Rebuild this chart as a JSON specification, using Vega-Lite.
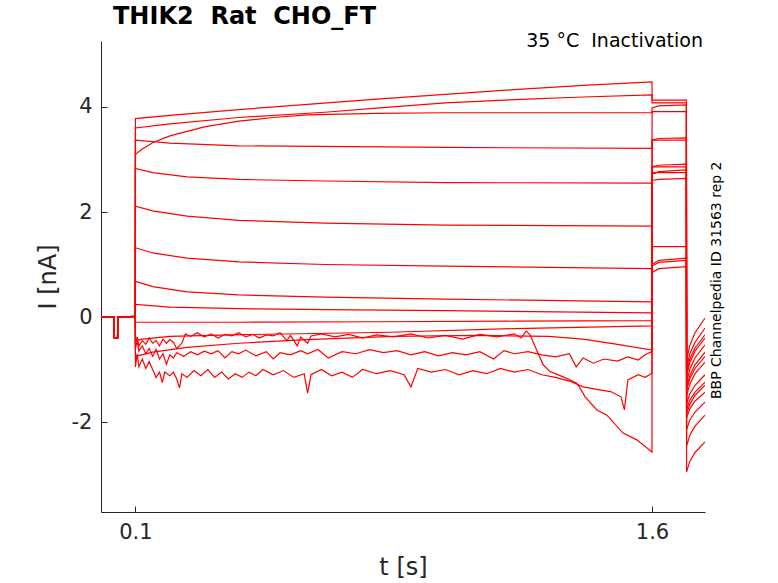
{
  "$schema": "https://vega.github.io/schema/vega-lite/v6.json",
  "width": 604,
  "height": 471,
  "autosize": {"type": "none"},
  "padding": {"left": 101, "top": 41, "right": 73, "bottom": 71},
  "background": "white",
  "title": {
    "text": "THIK2\u00a0 Rat\u00a0 CHO_FT",
    "anchor": "start",
    "frame": "group",
    "dx": 12,
    "offset": 3,
    "font": "DejaVu Sans",
    "fontSize": 24,
    "fontWeight": "bold",
    "color": "#000000"
  },
  "datasets": {
    "notes": [
      {"t": 1.754, "i": 5.257, "label": "35 °C\u00a0 Inactivation"}
    ],
    "side": [
      {"t": 1.79, "i": 0.7, "label": "BBP Channelpedia ID 31563 rep 2"}
    ],
    "traces": [
      {"s":"a","t":0,"i":0},{"s":"a","t":0.038,"i":0},{"s":"a","t":0.039,"i":-0.4},{"s":"a","t":0.048,"i":-0.4},{"s":"a","t":0.049,"i":0},{"s":"a","t":0.0995,"i":0.01},
      {"s":"a","t":0.1,"i":3.78},{"s":"a","t":0.2,"i":3.84},{"s":"a","t":0.4,"i":3.95},{"s":"a","t":0.6,"i":4.05},{"s":"a","t":0.8,"i":4.15},{"s":"a","t":1.0,"i":4.24},{"s":"a","t":1.2,"i":4.33},{"s":"a","t":1.4,"i":4.41},{"s":"a","t":1.6,"i":4.48},
      {"s":"a","t":1.6005,"i":4.13},{"s":"a","t":1.7,"i":4.13},
      {"s":"a","t":1.7005,"i":-2.95},{"s":"a","t":1.71,"i":-2.75},{"s":"a","t":1.725,"i":-2.58},{"s":"a","t":1.754,"i":-2.38},

      {"s":"b","t":0,"i":0},{"s":"b","t":0.038,"i":0},{"s":"b","t":0.039,"i":-0.4},{"s":"b","t":0.048,"i":-0.4},{"s":"b","t":0.049,"i":0},{"s":"b","t":0.0995,"i":0.01},
      {"s":"b","t":0.1,"i":3.6},{"s":"b","t":0.2,"i":3.68},{"s":"b","t":0.4,"i":3.8},{"s":"b","t":0.65,"i":3.9},{"s":"b","t":0.8,"i":3.98},{"s":"b","t":1.0,"i":4.08},{"s":"b","t":1.2,"i":4.14},{"s":"b","t":1.4,"i":4.19},{"s":"b","t":1.6,"i":4.23},
      {"s":"b","t":1.6005,"i":4.08},{"s":"b","t":1.7,"i":4.08},
      {"s":"b","t":1.7005,"i":-2.46},{"s":"b","t":1.71,"i":-2.25},{"s":"b","t":1.725,"i":-2.08},{"s":"b","t":1.754,"i":-1.87},

      {"s":"c","t":0,"i":0},{"s":"c","t":0.038,"i":0},{"s":"c","t":0.039,"i":-0.4},{"s":"c","t":0.048,"i":-0.4},{"s":"c","t":0.049,"i":0},{"s":"c","t":0.0995,"i":0.01},
      {"s":"c","t":0.1,"i":3.1},{"s":"c","t":0.12,"i":3.2},{"s":"c","t":0.15,"i":3.32},{"s":"c","t":0.2,"i":3.45},{"s":"c","t":0.3,"i":3.62},{"s":"c","t":0.4,"i":3.73},{"s":"c","t":0.5,"i":3.8},{"s":"c","t":0.6,"i":3.85},{"s":"c","t":0.8,"i":3.88},{"s":"c","t":1.0,"i":3.89},{"s":"c","t":1.6,"i":3.89},
      {"s":"c","t":1.6005,"i":3.98},{"s":"c","t":1.62,"i":4.02},{"s":"c","t":1.7,"i":4.04},
      {"s":"c","t":1.7005,"i":-2.15},{"s":"c","t":1.71,"i":-1.96},{"s":"c","t":1.725,"i":-1.81},{"s":"c","t":1.754,"i":-1.62},

      {"s":"d","t":0,"i":0},{"s":"d","t":0.038,"i":0},{"s":"d","t":0.039,"i":-0.4},{"s":"d","t":0.048,"i":-0.4},{"s":"d","t":0.049,"i":0},{"s":"d","t":0.0995,"i":0.01},
      {"s":"d","t":0.1,"i":3.37},{"s":"d","t":0.2,"i":3.31},{"s":"d","t":0.4,"i":3.26},{"s":"d","t":1.0,"i":3.23},{"s":"d","t":1.6,"i":3.21},
      {"s":"d","t":1.6005,"i":3.91},{"s":"d","t":1.7,"i":3.91},
      {"s":"d","t":1.7005,"i":-1.92},{"s":"d","t":1.71,"i":-1.75},{"s":"d","t":1.725,"i":-1.6},{"s":"d","t":1.754,"i":-1.43},

      {"s":"e","t":0,"i":0},{"s":"e","t":0.038,"i":0},{"s":"e","t":0.039,"i":-0.4},{"s":"e","t":0.048,"i":-0.4},{"s":"e","t":0.049,"i":0},{"s":"e","t":0.0995,"i":0.01},
      {"s":"e","t":0.1,"i":2.83},{"s":"e","t":0.15,"i":2.75},{"s":"e","t":0.25,"i":2.67},{"s":"e","t":0.4,"i":2.62},{"s":"e","t":0.65,"i":2.59},{"s":"e","t":1.0,"i":2.56},{"s":"e","t":1.6,"i":2.55},
      {"s":"e","t":1.6005,"i":3.37},{"s":"e","t":1.62,"i":3.4},{"s":"e","t":1.7,"i":3.41},
      {"s":"e","t":1.7005,"i":-1.85},{"s":"e","t":1.71,"i":-1.66},{"s":"e","t":1.725,"i":-1.49},{"s":"e","t":1.754,"i":-1.3},

      {"s":"f","t":0,"i":0},{"s":"f","t":0.038,"i":0},{"s":"f","t":0.039,"i":-0.4},{"s":"f","t":0.048,"i":-0.4},{"s":"f","t":0.049,"i":0},{"s":"f","t":0.0995,"i":0.01},
      {"s":"f","t":0.1,"i":2.11},{"s":"f","t":0.15,"i":2.02},{"s":"f","t":0.25,"i":1.92},{"s":"f","t":0.4,"i":1.84},{"s":"f","t":0.65,"i":1.79},{"s":"f","t":1.0,"i":1.75},{"s":"f","t":1.6,"i":1.73},
      {"s":"f","t":1.6005,"i":3.37},{"s":"f","t":1.7,"i":3.37},
      {"s":"f","t":1.7005,"i":-1.77},{"s":"f","t":1.71,"i":-1.58},{"s":"f","t":1.725,"i":-1.43},{"s":"f","t":1.754,"i":-1.24},

      {"s":"g","t":0,"i":0},{"s":"g","t":0.038,"i":0},{"s":"g","t":0.039,"i":-0.4},{"s":"g","t":0.048,"i":-0.4},{"s":"g","t":0.049,"i":0},{"s":"g","t":0.0995,"i":0.01},
      {"s":"g","t":0.1,"i":1.32},{"s":"g","t":0.15,"i":1.22},{"s":"g","t":0.25,"i":1.12},{"s":"g","t":0.4,"i":1.05},{"s":"g","t":0.65,"i":1.0},{"s":"g","t":1.0,"i":0.97},{"s":"g","t":1.6,"i":0.92},
      {"s":"g","t":1.6005,"i":2.86},{"s":"g","t":1.62,"i":2.89},{"s":"g","t":1.7,"i":2.91},
      {"s":"g","t":1.7005,"i":-1.66},{"s":"g","t":1.71,"i":-1.46},{"s":"g","t":1.725,"i":-1.3},{"s":"g","t":1.754,"i":-1.1},

      {"s":"h","t":0,"i":0},{"s":"h","t":0.038,"i":0},{"s":"h","t":0.039,"i":-0.4},{"s":"h","t":0.048,"i":-0.4},{"s":"h","t":0.049,"i":0},{"s":"h","t":0.0995,"i":0.01},
      {"s":"h","t":0.1,"i":0.68},{"s":"h","t":0.15,"i":0.58},{"s":"h","t":0.25,"i":0.48},{"s":"h","t":0.4,"i":0.42},{"s":"h","t":0.65,"i":0.38},{"s":"h","t":1.0,"i":0.34},{"s":"h","t":1.6,"i":0.29},
      {"s":"h","t":1.6005,"i":2.86},{"s":"h","t":1.7,"i":2.86},
      {"s":"h","t":1.7005,"i":-1.5},{"s":"h","t":1.71,"i":-1.28},{"s":"h","t":1.725,"i":-1.08},{"s":"h","t":1.754,"i":-0.86},

      {"s":"i","t":0,"i":0},{"s":"i","t":0.038,"i":0},{"s":"i","t":0.039,"i":-0.4},{"s":"i","t":0.048,"i":-0.4},{"s":"i","t":0.049,"i":0},{"s":"i","t":0.0995,"i":0.01},
      {"s":"i","t":0.1,"i":0.24},{"s":"i","t":0.2,"i":0.19},{"s":"i","t":0.4,"i":0.16},{"s":"i","t":0.65,"i":0.14},{"s":"i","t":1.0,"i":0.12},{"s":"i","t":1.6,"i":0.08},
      {"s":"i","t":1.6005,"i":2.72},{"s":"i","t":1.62,"i":2.77},{"s":"i","t":1.7,"i":2.8},
      {"s":"i","t":1.7005,"i":-1.4},{"s":"i","t":1.71,"i":-1.17},{"s":"i","t":1.725,"i":-0.98},{"s":"i","t":1.754,"i":-0.75},

      {"s":"j","t":0,"i":0},{"s":"j","t":0.038,"i":0},{"s":"j","t":0.039,"i":-0.4},{"s":"j","t":0.048,"i":-0.4},{"s":"j","t":0.049,"i":0},{"s":"j","t":0.0995,"i":0.01},
      {"s":"j","t":0.1,"i":-0.1},{"s":"j","t":0.4,"i":-0.1},{"s":"j","t":0.8,"i":-0.09},{"s":"j","t":1.2,"i":-0.08},{"s":"j","t":1.6,"i":-0.07},
      {"s":"j","t":1.6005,"i":2.75},{"s":"j","t":1.7,"i":2.75},
      {"s":"j","t":1.7005,"i":-1.35},{"s":"j","t":1.71,"i":-1.11},{"s":"j","t":1.725,"i":-0.91},{"s":"j","t":1.754,"i":-0.67},

      {"s":"k","t":0,"i":0},{"s":"k","t":0.038,"i":0},{"s":"k","t":0.039,"i":-0.4},{"s":"k","t":0.048,"i":-0.4},{"s":"k","t":0.049,"i":0},{"s":"k","t":0.0995,"i":0.01},
      {"s":"k","t":0.1,"i":-0.45},{"s":"k","t":0.12,"i":-0.42},{"s":"k","t":0.2,"i":-0.37},{"s":"k","t":0.38,"i":-0.34},{"s":"k","t":0.84,"i":-0.29},{"s":"k","t":1.2,"i":-0.22},{"s":"k","t":1.6,"i":-0.17},
      {"s":"k","t":1.6005,"i":2.6},{"s":"k","t":1.62,"i":2.62},{"s":"k","t":1.7,"i":2.64},
      {"s":"k","t":1.7005,"i":-1.24},{"s":"k","t":1.71,"i":-0.99},{"s":"k","t":1.725,"i":-0.78},{"s":"k","t":1.754,"i":-0.53},

      {"s":"l","t":0,"i":0},{"s":"l","t":0.038,"i":0},{"s":"l","t":0.039,"i":-0.4},{"s":"l","t":0.048,"i":-0.4},{"s":"l","t":0.049,"i":0},{"s":"l","t":0.0995,"i":0.01},
      {"s":"l","t":0.1,"i":-0.75},{"s":"l","t":0.15,"i":-0.67},{"s":"l","t":0.25,"i":-0.58},{"s":"l","t":0.4,"i":-0.5},{"s":"l","t":0.6,"i":-0.43},{"s":"l","t":0.85,"i":-0.37},{"s":"l","t":1.1,"i":-0.35},{"s":"l","t":1.3,"i":-0.37},{"s":"l","t":1.4,"i":-0.42},{"s":"l","t":1.5,"i":-0.52},{"s":"l","t":1.6,"i":-0.63},
      {"s":"l","t":1.6005,"i":1.34},{"s":"l","t":1.7,"i":1.34},
      {"s":"l","t":1.7005,"i":-1.12},{"s":"l","t":1.71,"i":-0.87},{"s":"l","t":1.725,"i":-0.65},{"s":"l","t":1.754,"i":-0.4},

      {"s":"m","t":0,"i":0},{"s":"m","t":0.038,"i":0},{"s":"m","t":0.039,"i":-0.4},{"s":"m","t":0.048,"i":-0.4},{"s":"m","t":0.049,"i":0},{"s":"m","t":0.0995,"i":0.01},
      {"s":"m","t":0.1,"i":-0.6},{"s":"m","t":0.105,"i":-0.45},{"s":"m","t":0.11,"i":-0.65},{"s":"m","t":0.12,"i":-0.55},{"s":"m","t":0.13,"i":-0.7},{"s":"m","t":0.14,"i":-0.6},{"s":"m","t":0.15,"i":-0.75},{"s":"m","t":0.16,"i":-0.62},{"s":"m","t":0.17,"i":-0.8},{"s":"m","t":0.18,"i":-0.7},{"s":"m","t":0.19,"i":-0.9},{"s":"m","t":0.2,"i":-0.72},
      {"s":"m","t":0.21,"i":-0.78},{"s":"m","t":0.22,"i":-0.68},{"s":"m","t":0.24,"i":-0.75},{"s":"m","t":0.26,"i":-0.66},{"s":"m","t":0.28,"i":-0.72},{"s":"m","t":0.3,"i":-0.65},{"s":"m","t":0.32,"i":-0.7},{"s":"m","t":0.34,"i":-0.64},{"s":"m","t":0.36,"i":-0.78},{"s":"m","t":0.38,"i":-0.66},{"s":"m","t":0.4,"i":-0.7},
      {"s":"m","t":0.42,"i":-0.63},{"s":"m","t":0.45,"i":-0.74},{"s":"m","t":0.48,"i":-0.66},{"s":"m","t":0.5,"i":-0.8},{"s":"m","t":0.52,"i":-0.68},{"s":"m","t":0.55,"i":-0.72},{"s":"m","t":0.58,"i":-0.64},{"s":"m","t":0.6,"i":-0.7},{"s":"m","t":0.63,"i":-0.62},{"s":"m","t":0.66,"i":-0.78},{"s":"m","t":0.7,"i":-0.66},
      {"s":"m","t":0.74,"i":-0.7},{"s":"m","t":0.78,"i":-0.62},{"s":"m","t":0.82,"i":-0.68},{"s":"m","t":0.86,"i":-0.64},{"s":"m","t":0.9,"i":-0.72},{"s":"m","t":0.94,"i":-0.66},{"s":"m","t":0.98,"i":-0.74},{"s":"m","t":1.02,"i":-0.68},{"s":"m","t":1.06,"i":-0.72},{"s":"m","t":1.1,"i":-0.66},{"s":"m","t":1.14,"i":-0.8},
      {"s":"m","t":1.17,"i":-0.64},{"s":"m","t":1.2,"i":-0.7},{"s":"m","t":1.24,"i":-0.66},{"s":"m","t":1.28,"i":-0.72},{"s":"m","t":1.32,"i":-0.76},{"s":"m","t":1.36,"i":-0.7},{"s":"m","t":1.38,"i":-0.95},{"s":"m","t":1.4,"i":-0.78},{"s":"m","t":1.43,"i":-0.88},{"s":"m","t":1.46,"i":-0.8},{"s":"m","t":1.5,"i":-0.84},
      {"s":"m","t":1.53,"i":-0.76},{"s":"m","t":1.56,"i":-0.82},{"s":"m","t":1.58,"i":-0.72},{"s":"m","t":1.6,"i":-0.66},
      {"s":"m","t":1.6005,"i":1.0},{"s":"m","t":1.62,"i":1.08},{"s":"m","t":1.7,"i":1.12},
      {"s":"m","t":1.7005,"i":-1.05},{"s":"m","t":1.71,"i":-0.8},{"s":"m","t":1.725,"i":-0.59},{"s":"m","t":1.754,"i":-0.34},

      {"s":"n","t":0,"i":0},{"s":"n","t":0.038,"i":0},{"s":"n","t":0.039,"i":-0.4},{"s":"n","t":0.048,"i":-0.4},{"s":"n","t":0.049,"i":0},{"s":"n","t":0.0995,"i":0.01},
      {"s":"n","t":0.1,"i":-0.95},{"s":"n","t":0.105,"i":-0.7},{"s":"n","t":0.11,"i":-0.95},{"s":"n","t":0.12,"i":-0.8},{"s":"n","t":0.13,"i":-0.98},{"s":"n","t":0.14,"i":-0.85},{"s":"n","t":0.15,"i":-1.0},{"s":"n","t":0.16,"i":-1.15},{"s":"n","t":0.17,"i":-1.05},{"s":"n","t":0.178,"i":-1.25},{"s":"n","t":0.185,"i":-1.05},
      {"s":"n","t":0.2,"i":-1.12},{"s":"n","t":0.21,"i":-1.05},{"s":"n","t":0.22,"i":-1.18},{"s":"n","t":0.228,"i":-1.35},{"s":"n","t":0.235,"i":-1.08},{"s":"n","t":0.25,"i":-1.15},{"s":"n","t":0.27,"i":-1.02},{"s":"n","t":0.29,"i":-1.12},{"s":"n","t":0.31,"i":-1.0},{"s":"n","t":0.33,"i":-1.15},
      {"s":"n","t":0.35,"i":-1.05},{"s":"n","t":0.37,"i":-1.18},{"s":"n","t":0.39,"i":-1.08},{"s":"n","t":0.41,"i":-1.15},{"s":"n","t":0.43,"i":-1.05},{"s":"n","t":0.45,"i":-1.12},{"s":"n","t":0.47,"i":-1.0},{"s":"n","t":0.5,"i":-1.1},{"s":"n","t":0.53,"i":-1.02},{"s":"n","t":0.56,"i":-1.15},
      {"s":"n","t":0.59,"i":-1.08},{"s":"n","t":0.6,"i":-1.45},{"s":"n","t":0.61,"i":-1.1},{"s":"n","t":0.64,"i":-1.0},{"s":"n","t":0.67,"i":-1.12},{"s":"n","t":0.7,"i":-1.05},{"s":"n","t":0.73,"i":-1.15},{"s":"n","t":0.76,"i":-1.0},{"s":"n","t":0.8,"i":-1.08},{"s":"n","t":0.84,"i":-1.02},
      {"s":"n","t":0.88,"i":-1.1},{"s":"n","t":0.9,"i":-1.33},{"s":"n","t":0.92,"i":-0.98},{"s":"n","t":0.96,"i":-1.05},{"s":"n","t":1.0,"i":-1.0},{"s":"n","t":1.04,"i":-1.1},{"s":"n","t":1.08,"i":-1.02},{"s":"n","t":1.12,"i":-1.08},{"s":"n","t":1.16,"i":-0.98},{"s":"n","t":1.2,"i":-1.05},
      {"s":"n","t":1.24,"i":-1.0},{"s":"n","t":1.28,"i":-1.1},{"s":"n","t":1.32,"i":-1.15},{"s":"n","t":1.36,"i":-1.22},{"s":"n","t":1.4,"i":-1.33},{"s":"n","t":1.44,"i":-1.38},{"s":"n","t":1.48,"i":-1.42},{"s":"n","t":1.51,"i":-1.52},{"s":"n","t":1.52,"i":-1.77},{"s":"n","t":1.53,"i":-1.2},
      {"s":"n","t":1.56,"i":-1.1},{"s":"n","t":1.58,"i":-1.15},{"s":"n","t":1.6,"i":-1.07},
      {"s":"n","t":1.6005,"i":0.97},{"s":"n","t":1.62,"i":1.04},{"s":"n","t":1.7,"i":1.08},
      {"s":"n","t":1.7005,"i":-0.97},{"s":"n","t":1.71,"i":-0.7},{"s":"n","t":1.725,"i":-0.48},{"s":"n","t":1.754,"i":-0.21},

      {"s":"u","t":0,"i":0},{"s":"u","t":0.038,"i":0},{"s":"u","t":0.039,"i":-0.4},{"s":"u","t":0.048,"i":-0.4},{"s":"u","t":0.049,"i":0},{"s":"u","t":0.0995,"i":0.01},
      {"s":"u","t":0.1,"i":-0.5},{"s":"u","t":0.105,"i":-0.38},{"s":"u","t":0.11,"i":-0.55},{"s":"u","t":0.12,"i":-0.45},{"s":"u","t":0.13,"i":-0.52},{"s":"u","t":0.14,"i":-0.4},{"s":"u","t":0.15,"i":-0.5},{"s":"u","t":0.16,"i":-0.45},{"s":"u","t":0.17,"i":-0.55},{"s":"u","t":0.18,"i":-0.42},
      {"s":"u","t":0.19,"i":-0.5},{"s":"u","t":0.2,"i":-0.43},{"s":"u","t":0.21,"i":-0.48},{"s":"u","t":0.22,"i":-0.6},{"s":"u","t":0.235,"i":-0.5},{"s":"u","t":0.245,"i":-0.32},{"s":"u","t":0.26,"i":-0.37},{"s":"u","t":0.28,"i":-0.3},{"s":"u","t":0.3,"i":-0.38},{"s":"u","t":0.32,"i":-0.32},
      {"s":"u","t":0.34,"i":-0.4},{"s":"u","t":0.36,"i":-0.33},{"s":"u","t":0.38,"i":-0.36},{"s":"u","t":0.4,"i":-0.3},{"s":"u","t":0.42,"i":-0.38},{"s":"u","t":0.44,"i":-0.33},{"s":"u","t":0.46,"i":-0.4},{"s":"u","t":0.48,"i":-0.34},{"s":"u","t":0.5,"i":-0.36},{"s":"u","t":0.52,"i":-0.3},
      {"s":"u","t":0.54,"i":-0.45},{"s":"u","t":0.55,"i":-0.35},{"s":"u","t":0.57,"i":-0.55},{"s":"u","t":0.58,"i":-0.38},{"s":"u","t":0.6,"i":-0.5},{"s":"u","t":0.61,"i":-0.36},{"s":"u","t":0.64,"i":-0.32},{"s":"u","t":0.68,"i":-0.38},{"s":"u","t":0.72,"i":-0.33},{"s":"u","t":0.76,"i":-0.4},
      {"s":"u","t":0.8,"i":-0.34},{"s":"u","t":0.85,"i":-0.38},{"s":"u","t":0.9,"i":-0.32},{"s":"u","t":0.95,"i":-0.4},{"s":"u","t":1.0,"i":-0.35},{"s":"u","t":1.05,"i":-0.42},{"s":"u","t":1.1,"i":-0.33},{"s":"u","t":1.15,"i":-0.38},{"s":"u","t":1.2,"i":-0.32},{"s":"u","t":1.22,"i":-0.4},
      {"s":"u","t":1.235,"i":-0.27},{"s":"u","t":1.246,"i":-0.34},{"s":"u","t":1.265,"i":-0.63},{"s":"u","t":1.284,"i":-0.91},{"s":"u","t":1.304,"i":-1.04},{"s":"u","t":1.342,"i":-1.14},{"s":"u","t":1.382,"i":-1.26},{"s":"u","t":1.406,"i":-1.52},{"s":"u","t":1.44,"i":-1.77},{"s":"u","t":1.469,"i":-1.87},
      {"s":"u","t":1.516,"i":-2.21},{"s":"u","t":1.556,"i":-2.34},{"s":"u","t":1.6,"i":-2.57},
      {"s":"u","t":1.6005,"i":0.85},{"s":"u","t":1.62,"i":0.92},{"s":"u","t":1.7,"i":0.96},
      {"s":"u","t":1.7005,"i":-0.82},{"s":"u","t":1.71,"i":-0.54},{"s":"u","t":1.725,"i":-0.3},{"s":"u","t":1.754,"i":-0.02}
    ]
  },
  "encoding": {
    "x": {
      "field": "t",
      "type": "quantitative",
      "title": "t [s]",
      "scale": {"domain": [0, 1.754], "nice": false, "zero": false},
      "axis": {
        "values": [0.1, 1.6],
        "format": ".1f",
        "grid": false,
        "tickSize": -6,
        "labelPadding": 15,
        "labelFontSize": 21,
        "titleFontSize": 24,
        "titleFontWeight": "normal",
        "titlePadding": 13,
        "labelFont": "DejaVu Sans",
        "titleFont": "DejaVu Sans",
        "domainColor": "#262626",
        "tickColor": "#262626",
        "labelColor": "#262626",
        "titleColor": "#262626"
      }
    },
    "y": {
      "field": "i",
      "type": "quantitative",
      "title": "I [nA]",
      "scale": {"domain": [-3.714, 5.257], "nice": false, "zero": false},
      "axis": {
        "values": [-2, 0, 2, 4],
        "labelExpr": "replace(datum.label, '\u2212', '-')",
        "grid": false,
        "tickSize": -6,
        "labelPadding": 15,
        "labelFontSize": 21,
        "titleFontSize": 24,
        "titleFontWeight": "normal",
        "titlePadding": 11,
        "labelFont": "DejaVu Sans",
        "titleFont": "DejaVu Sans",
        "domainColor": "#262626",
        "tickColor": "#262626",
        "labelColor": "#262626",
        "titleColor": "#262626"
      }
    }
  },
  "layer": [
    {
      "data": {"name": "traces"},
      "mark": {"type": "line", "color": "#ff0000", "strokeWidth": 1.2, "clip": true},
      "encoding": {"detail": {"field": "s", "type": "nominal"}}
    },
    {
      "data": {"name": "notes"},
      "mark": {"type": "text", "align": "right", "baseline": "middle", "dx": -2, "font": "DejaVu Sans", "fontSize": 19, "color": "#000000"},
      "encoding": {"text": {"field": "label", "type": "nominal"}}
    },
    {
      "data": {"name": "side"},
      "mark": {"type": "text", "angle": 270, "align": "center", "baseline": "middle", "font": "DejaVu Sans", "fontSize": 14, "color": "#000000"},
      "encoding": {"text": {"field": "label", "type": "nominal"}}
    }
  ],
  "config": {"view": {"stroke": null}}
}
